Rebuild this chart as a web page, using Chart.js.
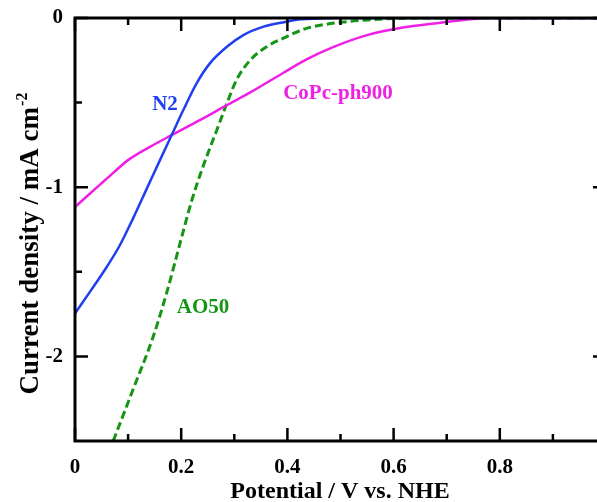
<!DOCTYPE html>
<html>
<head>
<meta charset="utf-8">
<script src="https://cdn.jsdelivr.net/npm/chart.js@4.4.1/dist/chart.umd.min.js"></script>
<style>
  html, body { margin: 0; padding: 0; background: #fff; overflow: hidden; }
  #wrap { width: 597px; height: 502px; overflow: hidden; }
</style>
</head>
<body>
<div id="wrap"><canvas id="lsv" width="620" height="502"></canvas></div>
<script>
// potential (V vs NHE) / current density (mA cm-2)
const n2X = [0, 0.03, 0.06, 0.085, 0.11, 0.135, 0.16, 0.182, 0.204, 0.229, 0.254, 0.286, 0.317, 0.355, 0.398, 0.424, 0.46, 0.5, 0.6, 0.8, 1.0];
const n2Y = [-1.746, -1.61, -1.47, -1.34, -1.18, -1.01, -0.84, -0.692, -0.544, -0.386, -0.268, -0.17, -0.101, -0.051, -0.022, -0.008, -0.003, 0, 0, 0, 0];

const ao50X = [0.072, 0.11, 0.147, 0.173, 0.201, 0.22, 0.242, 0.267, 0.286, 0.304, 0.33, 0.361, 0.398, 0.436, 0.505, 0.55, 0.6, 0.7, 0.8, 1.0];
const ao50Y = [-2.5, -2.19, -1.886, -1.62, -1.294, -1.077, -0.87, -0.663, -0.505, -0.367, -0.249, -0.17, -0.111, -0.061, -0.024, -0.012, -0.003, 0, 0, 0];

const copcX = [0, 0.047, 0.072, 0.1, 0.141, 0.182, 0.235, 0.286, 0.33, 0.392, 0.436, 0.486, 0.55, 0.612, 0.7, 0.744, 0.78, 0.9, 1.0];
const copcY = [-1.117, -0.985, -0.915, -0.84, -0.762, -0.692, -0.604, -0.515, -0.44, -0.325, -0.245, -0.172, -0.101, -0.059, -0.024, -0.007, 0, 0, 0];

const xMajor = [0, 0.2, 0.4, 0.6, 0.8, 1.0];
const xMinor = [0.1, 0.3, 0.5, 0.7, 0.9];
const yMajor = [0, -1, -2];
const yMinor = [-0.5, -1.5];

// curve labels: text, anchor x, baseline y (data units)
const curveLabels = [
  { text: "N2", x: 0.1695, y: -0.544, color: "#1f3ff0" },
  { text: "CoPc-ph900", x: 0.4953, y: -0.479, color: "#f01fe6" },
  { text: "AO50", x: 0.241, y: -1.743, color: "#149614" },
];

const SERIF = "'Liberation Serif', 'Times New Roman', serif";

function pts(xs, ys) {
  return xs.map((x, i) => ({ x: x, y: ys[i] }));
}

const frame = {
  id: "frame",
  afterDraw(chart) {
    const { ctx, chartArea: a, scales: { x, y } } = chart;
    ctx.save();
    ctx.strokeStyle = "#000";
    ctx.lineWidth = 3;
    ctx.strokeRect(a.left, a.top, a.right - a.left, a.bottom - a.top);

    // inward ticks on all four sides
    ctx.lineWidth = 2.5;
    ctx.beginPath();
    const xt = (vals, len) => vals.forEach(v => {
      const px = x.getPixelForValue(v);
      ctx.moveTo(px, a.bottom); ctx.lineTo(px, a.bottom - len);
      ctx.moveTo(px, a.top); ctx.lineTo(px, a.top + len);
    });
    const yt = (vals, len) => vals.forEach(v => {
      const py = y.getPixelForValue(v);
      ctx.moveTo(a.left, py); ctx.lineTo(a.left + len, py);
      ctx.moveTo(a.right, py); ctx.lineTo(a.right - len, py);
    });
    xt(xMajor, 13); xt(xMinor, 7);
    yt(yMajor, 13); yt(yMinor, 7);
    ctx.stroke();

    // curve labels
    ctx.font = "bold 21px " + SERIF;
    ctx.textAlign = "center";
    ctx.textBaseline = "alphabetic";
    curveLabels.forEach(l => {
      ctx.fillStyle = l.color;
      ctx.fillText(l.text, x.getPixelForValue(l.x), y.getPixelForValue(l.y));
    });

    // x title
    ctx.fillStyle = "#000";
    ctx.font = "bold 24px " + SERIF;
    ctx.fillText("Potential / V vs. NHE", 340, 498);

    // y title with superscript
    ctx.translate(38, 244);
    ctx.rotate(-Math.PI / 2);
    ctx.textAlign = "left";
    const main = "Current density / mA cm";
    const sup = "-2";
    ctx.font = "bold 27px " + SERIF;
    const w1 = ctx.measureText(main).width;
    ctx.font = "bold 16px " + SERIF;
    const w2 = ctx.measureText(sup).width;
    const x0 = -(w1 + w2) / 2;
    ctx.font = "bold 27px " + SERIF;
    ctx.fillText(main, x0, 0);
    ctx.font = "bold 16px " + SERIF;
    ctx.fillText(sup, x0 + w1 + 1, -11);
    ctx.restore();
  }
};

new Chart(document.getElementById("lsv"), {
  type: "line",
  data: {
    datasets: [
      {
        label: "N2",
        data: pts(n2X, n2Y),
        borderColor: "#1f3ff0",
        borderWidth: 2.5,
        pointRadius: 0,
        cubicInterpolationMode: "monotone",
      },
      {
        label: "CoPc-ph900",
        data: pts(copcX, copcY),
        borderColor: "#f01fe6",
        borderWidth: 2.5,
        pointRadius: 0,
        cubicInterpolationMode: "monotone",
      },
      {
        label: "AO50",
        data: pts(ao50X, ao50Y),
        borderColor: "#149614",
        borderWidth: 3,
        borderDash: [8, 4],
        pointRadius: 0,
        cubicInterpolationMode: "monotone",
      },
    ],
  },
  options: {
    responsive: false,
    animation: false,
    layout: { padding: { top: 18, right: 14, left: 0, bottom: 0 } },
    plugins: { legend: { display: false }, tooltip: { enabled: false } },
    scales: {
      x: {
        type: "linear",
        min: 0,
        max: 1,
        grid: { display: false },
        border: { display: false },
        ticks: {
          stepSize: 0.2,
          autoSkip: false,
          maxRotation: 0,
          padding: 6,
          color: "#000",
          font: { family: SERIF, size: 21, weight: "bold" },
          // the 1.0 label falls outside the cropped figure
          callback: v => (v === 0 ? "0" : v > 0.95 ? null : v.toFixed(1)),
        },
        afterFit: s => { s.height = 61; },
      },
      y: {
        min: -2.5,
        max: 0,
        grid: { display: false },
        border: { display: false },
        ticks: {
          stepSize: 1,
          padding: 4,
          color: "#000",
          font: { family: SERIF, size: 21, weight: "bold" },
          callback: v => (Number.isInteger(v) ? String(v) : null),
        },
        afterFit: s => { s.width = 75; },
      },
    },
  },
  plugins: [frame],
});
</script>
</body>
</html>
